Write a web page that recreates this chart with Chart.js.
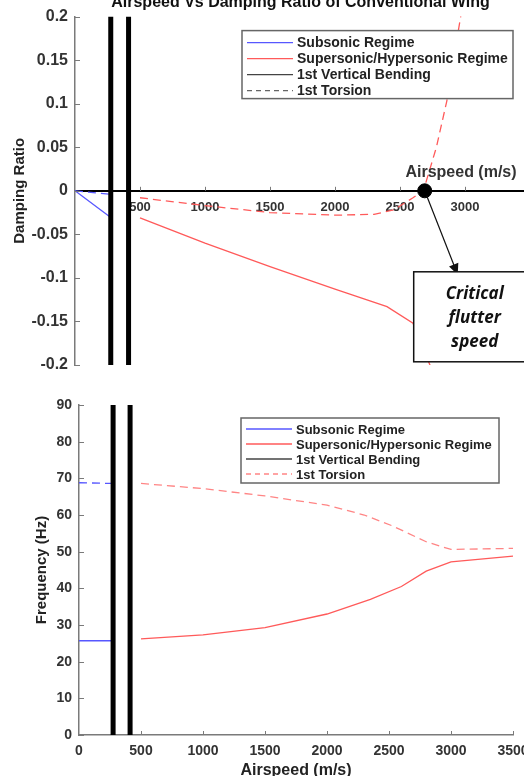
<!DOCTYPE html>
<html>
<head>
<meta charset="utf-8">
<script src="https://cdn.jsdelivr.net/npm/chart.js@4.4.1/dist/chart.umd.min.js"></script>
<style>
  html, body { margin: 0; padding: 0; background: #fff; width: 524px; height: 776px; overflow: hidden; position: relative; }
  canvas { position: absolute; left: 0; }
  #damping { top: 0; }
  #frequency { top: 385px; }
</style>
</head>
<body>
<canvas id="damping" width="545" height="385"></canvas>
<canvas id="frequency" width="545" height="400"></canvas>
<script>
// ─── Data ───────────────────────────────────────────────────────────────────

const TITLE_TOP = 'Airspeed Vs Damping Ratio of Conventional Wing';
const X_TITLE = 'Airspeed (m/s)';

// transonic band edges (thick black lines)
const TRANSONIC = [275, 412];

// damping ratio
const SUB_SPEED = [0, 270];
const DAMP_SUB_BEND = [0, -0.030];
const DAMP_SUB_TORS = [0, -0.004];
const SPEED_DAMP_BEND = [500, 1000, 1500, 2000, 2400, 2600, 2730, 2780];
const DAMP_SUP_BEND = [-0.031, -0.060, -0.087, -0.113, -0.133, -0.152, -0.200, -0.240];
const SPEED_DAMP_TORS = [500, 1000, 1500, 2000, 2300, 2450, 2600, 2680, 2780, 2860, 2960, 3000];
const DAMP_SUP_TORS = [-0.008, -0.017, -0.025, -0.028, -0.027, -0.022, -0.008, 0, 0.05, 0.103, 0.194, 0.23];
const FLUTTER_SPEED = [2690];
const FLUTTER_DAMP = [0];
const FLUTTER_NOTE = ['Critical', 'flutter', 'speed'];

// frequency
const FREQ_SUB_BEND = [25.7, 25.7];
const FREQ_SUB_TORS = [68.8, 68.6];
const SPEED_FREQ_BEND = [500, 1000, 1500, 2000, 2350, 2600, 2800, 3000, 3500];
const FREQ_SUP_BEND = [26.2, 27.3, 29.3, 33.0, 37.0, 40.5, 44.7, 47.2, 48.8];
const SPEED_FREQ_TORS = [500, 1000, 1500, 2000, 2300, 2530, 2800, 3000, 3500];
const FREQ_SUP_TORS = [68.6, 67.2, 65.2, 62.7, 60.0, 57.0, 52.7, 50.6, 50.9];

const LEGEND_TEXT = ['Subsonic Regime', 'Supersonic/Hypersonic Regime', '1st Vertical Bending', '1st Torsion'];

// ─── Styling ────────────────────────────────────────────────────────────────

const FONT = '"Liberation Sans", Arial, sans-serif';
const BLUE = '#5757ff';
const RED = '#ff5a5a';
const PINK = '#ff8585';
const AXIS = '#7a7a7a';
const DASH = [8, 5];
const NO_GRID = { display: false, drawTicks: false, tickLength: 0 };

Chart.defaults.font.family = FONT;
Chart.defaults.color = '#333';
Chart.defaults.animation = false;

const pts = (xs, ys) => xs.map((x, i) => ({ x, y: ys[i] }));

function line(data, color, dash, width, order) {
  return {
    data, borderColor: color, borderDash: dash || [], borderWidth: width || 1.3,
    pointRadius: 0, tension: 0, fill: false, order: order || 5,
  };
}

function vLines(ymin, ymax) {
  return TRANSONIC.map(s => line(pts([s, s], [ymin, ymax]), '#000', [], 5, 1));
}

// ─── Decoration helpers ─────────────────────────────────────────────────────

function inwardTicks(chart, axisY) {
  const { ctx, scales: { x, y } } = chart;
  ctx.save();
  ctx.strokeStyle = AXIS;
  ctx.lineWidth = 1;
  ctx.beginPath();
  y.ticks.forEach(t => {
    const py = Math.round(y.getPixelForValue(t.value)) + 0.5;
    ctx.moveTo(y.right, py); ctx.lineTo(y.right + 5, py);
  });
  x.ticks.forEach(t => {
    if (t.value === 0) return;
    const px = Math.round(x.getPixelForValue(t.value)) + 0.5;
    ctx.moveTo(px, axisY); ctx.lineTo(px, axisY - 4);
  });
  ctx.stroke();
  ctx.restore();
}

function drawLegend(ctx, box, entries, fontPx, rowH) {
  ctx.save();
  ctx.fillStyle = '#fff';
  ctx.fillRect(box.l, box.t, box.w, box.h);
  ctx.strokeStyle = '#666';
  ctx.lineWidth = 1.5;
  ctx.strokeRect(box.l, box.t, box.w, box.h);
  ctx.font = `bold ${fontPx}px ${FONT}`;
  ctx.textBaseline = 'middle';
  entries.forEach((e, i) => {
    const cy = box.t + box.first + i * rowH;
    ctx.strokeStyle = e.color;
    ctx.lineWidth = 1.3;
    ctx.setLineDash(e.dash || []);
    ctx.beginPath();
    ctx.moveTo(box.l + 5, cy); ctx.lineTo(box.l + 51, cy);
    ctx.stroke();
    ctx.setLineDash([]);
    ctx.fillStyle = '#222';
    ctx.fillText(e.text, box.l + 55, cy + 1);
  });
  ctx.restore();
}

// ─── Damping chart ──────────────────────────────────────────────────────────

const dampDecor = {
  id: 'dampDecor',
  afterDatasetsDraw(chart) {
    const { ctx, chartArea: a, scales: { x, y } } = chart;
    const axisY = y.getPixelForValue(0);
    inwardTicks(chart, axisY);

    // clipped title at the very top
    ctx.save();
    ctx.font = `bold 16px ${FONT}`;
    ctx.fillStyle = '#111';
    ctx.textAlign = 'center';
    ctx.textBaseline = 'alphabetic';
    ctx.fillText(TITLE_TOP, (a.left + a.right) / 2 - 2, 7);

    // axis label sitting above the zero line
    ctx.font = `bold 16px ${FONT}`;
    ctx.fillStyle = '#333';
    ctx.textBaseline = 'middle';
    ctx.fillText(X_TITLE, a.right - 69, axisY - 18);
    ctx.restore();

    drawLegend(ctx, { l: a.left + 167, t: a.top + 14, w: 271, h: 68, first: 12 }, [
      { text: LEGEND_TEXT[0], color: BLUE },
      { text: LEGEND_TEXT[1], color: RED },
      { text: LEGEND_TEXT[2], color: '#444' },
      { text: LEGEND_TEXT[3], color: '#666', dash: [5, 4] },
    ], 14, 16);

    // flutter annotation
    const fx = x.getPixelForValue(FLUTTER_SPEED[0]);
    const fy = y.getPixelForValue(FLUTTER_DAMP[0]);
    const box = { l: fx - 11, t: fy + 81, w: 130, h: 90 };
    const tipX = fx + 33, tipY = box.t + 3;
    ctx.save();
    ctx.strokeStyle = '#111';
    ctx.fillStyle = '#111';
    ctx.lineWidth = 1.2;
    ctx.beginPath();
    ctx.moveTo(fx + 2, fy + 5); ctx.lineTo(tipX, tipY);
    ctx.stroke();
    const ang = Math.atan2(tipY - fy, tipX - fx);
    ctx.beginPath();
    ctx.moveTo(tipX, tipY);
    ctx.lineTo(tipX - 11 * Math.cos(ang) + 5 * Math.sin(ang), tipY - 11 * Math.sin(ang) - 5 * Math.cos(ang));
    ctx.lineTo(tipX - 11 * Math.cos(ang) - 5 * Math.sin(ang), tipY - 11 * Math.sin(ang) + 5 * Math.cos(ang));
    ctx.closePath();
    ctx.fill();
    ctx.fillStyle = '#fff';
    ctx.fillRect(box.l, box.t, box.w, box.h);
    ctx.lineWidth = 1.5;
    ctx.strokeRect(box.l, box.t, box.w, box.h);
    ctx.fillStyle = '#111';
    ctx.font = `italic bold 17px "Open Sans", ${FONT}`;
    ctx.textAlign = 'center';
    ctx.textBaseline = 'middle';
    FLUTTER_NOTE.forEach((s, i) => ctx.fillText(s, box.l + 61, box.t + 22 + i * 24));
    ctx.restore();
  },
};

new Chart(document.getElementById('damping'), {
  type: 'line',
  data: {
    datasets: [
      ...vLines(-0.2, 0.2),
      {
        data: pts(FLUTTER_SPEED, FLUTTER_DAMP), showLine: false, order: 0,
        pointRadius: 7, pointBackgroundColor: '#000', pointBorderColor: '#000',
      },
      line(pts(SUB_SPEED, DAMP_SUB_BEND), BLUE),
      line(pts(SUB_SPEED, DAMP_SUB_TORS), BLUE, DASH),
      line(pts(SPEED_DAMP_BEND, DAMP_SUP_BEND), RED),
      line(pts(SPEED_DAMP_TORS, DAMP_SUP_TORS), RED, DASH),
    ],
  },
  options: {
    responsive: false,
    layout: { padding: { top: 15, bottom: 20, right: 15, left: 0 } },
    plugins: { legend: { display: false }, tooltip: { enabled: false } },
    scales: {
      x: {
        type: 'linear', min: 0, max: 3500, position: { y: 0 },
        border: { color: '#000', width: 2 },
        grid: NO_GRID,
        ticks: {
          stepSize: 500, padding: 9, color: '#333',
          font: { size: 13, weight: 'bold' },
          callback: v => (v > 0 && v < 3500 ? String(v) : ''),
        },
      },
      y: {
        min: -0.2, max: 0.2,
        afterFit: s => { s.width = 75; },
        border: { color: AXIS, width: 1.5 },
        grid: NO_GRID,
        ticks: {
          stepSize: 0.05, padding: 7, color: '#333',
          font: { size: 16, weight: 'bold' },
          callback: v => String(Number(v.toFixed(2))),
        },
        title: {
          display: true, text: 'Damping Ratio', color: '#222',
          font: { size: 15, weight: 'bold' }, padding: { top: 11 },
        },
      },
    },
  },
  plugins: [dampDecor],
});

// ─── Frequency chart ────────────────────────────────────────────────────────

const freqDecor = {
  id: 'freqDecor',
  afterDatasetsDraw(chart) {
    const { ctx, chartArea: a } = chart;
    inwardTicks(chart, a.bottom);
    drawLegend(ctx, { l: a.left + 162, t: a.top + 13, w: 258, h: 65, first: 11 }, [
      { text: LEGEND_TEXT[0], color: BLUE },
      { text: LEGEND_TEXT[1], color: RED },
      { text: LEGEND_TEXT[2], color: '#444' },
      { text: LEGEND_TEXT[3], color: PINK, dash: [5, 4] },
    ], 13, 15);
  },
};

new Chart(document.getElementById('frequency'), {
  type: 'line',
  data: {
    datasets: [
      ...vLines(0, 90),
      line(pts(SUB_SPEED, FREQ_SUB_BEND), BLUE),
      line(pts(SUB_SPEED, FREQ_SUB_TORS), BLUE, DASH),
      line(pts(SPEED_FREQ_BEND, FREQ_SUP_BEND), RED),
      line(pts(SPEED_FREQ_TORS, FREQ_SUP_TORS), PINK, DASH),
    ],
  },
  options: {
    responsive: false,
    layout: { padding: { top: 20, bottom: 0, right: 32, left: 0 } },
    plugins: { legend: { display: false }, tooltip: { enabled: false } },
    scales: {
      x: {
        type: 'linear', min: 0, max: 3500,
        afterFit: s => { s.height = 50; },
        border: { color: AXIS, width: 1.5 },
        grid: NO_GRID,
        ticks: {
          stepSize: 500, padding: 8, color: '#333',
          font: { size: 14, weight: 'bold' },
          callback: v => String(v),
        },
        title: {
          display: true, text: X_TITLE, color: '#222',
          font: { size: 16, weight: 'bold' }, padding: { bottom: 5 },
        },
      },
      y: {
        min: 0, max: 90,
        afterFit: s => { s.width = 79; },
        border: { color: AXIS, width: 1.5 },
        grid: NO_GRID,
        ticks: { stepSize: 10, padding: 7, color: '#333', font: { size: 14, weight: 'bold' } },
        title: {
          display: true, text: 'Frequency (Hz)', color: '#222',
          font: { size: 15, weight: 'bold' }, padding: { top: 33 },
        },
      },
    },
  },
  plugins: [freqDecor],
});
</script>
</body>
</html>
